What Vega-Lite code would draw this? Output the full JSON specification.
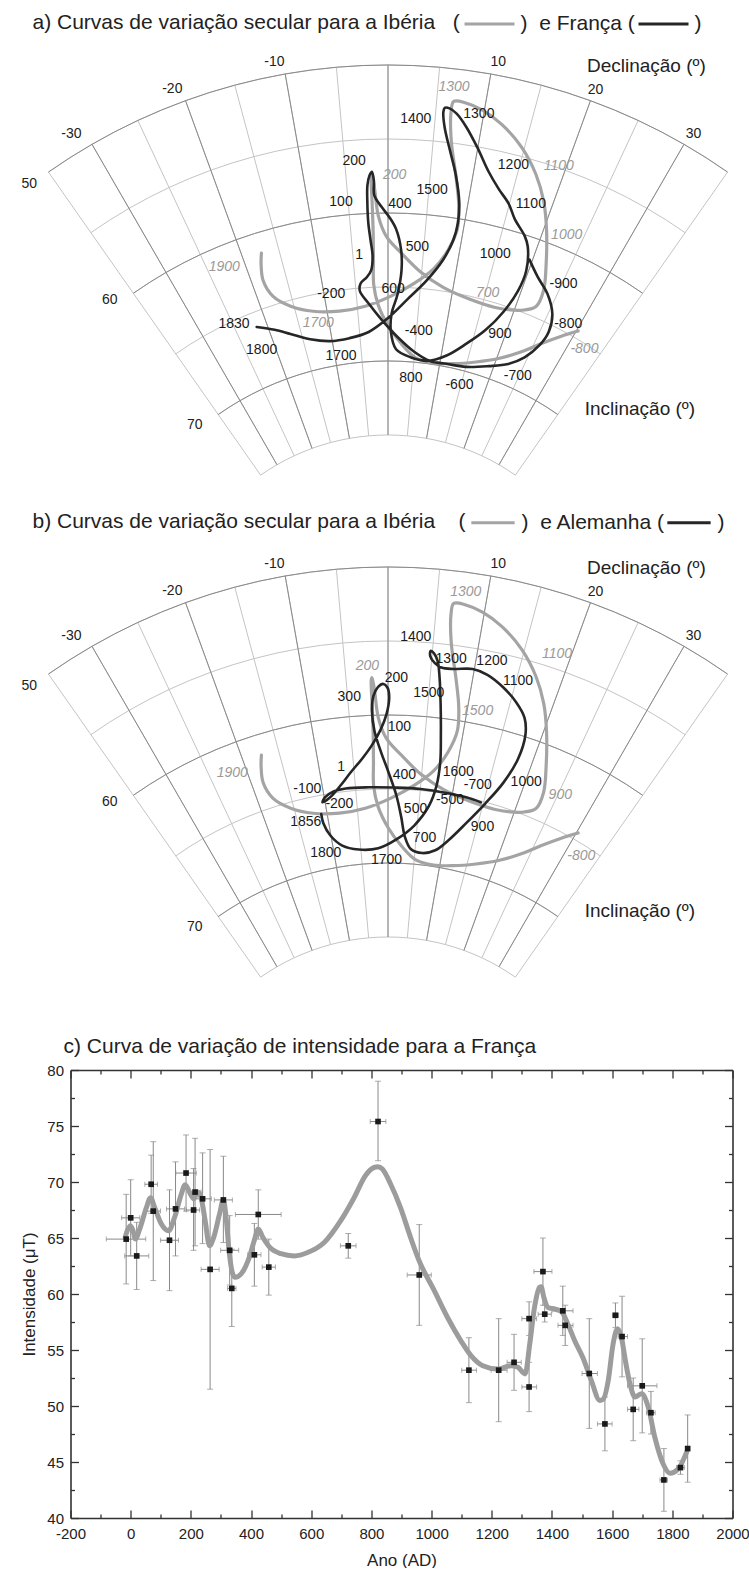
{
  "$schema": "https://vega.github.io/schema/vega-lite/v6.json",
  "padding": {"left": 20.5, "top": 0, "right": 0, "bottom": 0},
  "background": "white",
  "config": {"font": "Liberation Sans", "view": {"stroke": null}},
  "spacing": 0,
  "bounds": "flush",
  "resolve": {"scale": {"color": "independent"}, "legend": {"color": "independent"}},
  "datasets": {
    "iberia": [
      {"i":1,"dec":30.25,"inc":64.5},{"i":2,"dec":28.3,"inc":65.4},{"i":3,"dec":26.0,"inc":66.45},{"i":4,"dec":23.6,"inc":67.5},
      {"i":5,"dec":20.3,"inc":68.5},{"i":6,"dec":16.6,"inc":69.2},{"i":7,"dec":12.5,"inc":69.7},{"i":8,"dec":8.8,"inc":69.9},
      {"i":9,"dec":5.3,"inc":69.7},{"i":10,"dec":2.4,"inc":68.8},{"i":11,"dec":0.0,"inc":67.6},{"i":12,"dec":-1.6,"inc":66.2},
      {"i":13,"dec":-2.2,"inc":64.8},{"i":14,"dec":-2.1,"inc":63.2},{"i":15,"dec":-2.0,"inc":61.3},{"i":16,"dec":-2.0,"inc":59.25},
      {"i":17,"dec":-2.0,"inc":57.6},{"i":18,"dec":-1.9,"inc":57.45},{"i":19,"dec":-1.65,"inc":58.3},{"i":20,"dec":-1.25,"inc":60.2},
      {"i":21,"dec":-0.2,"inc":61.6},{"i":22,"dec":1.9,"inc":62.7},{"i":23,"dec":4.85,"inc":63.9},{"i":24,"dec":8.5,"inc":64.75},
      {"i":25,"dec":12.8,"inc":65.2},{"i":26,"dec":17.05,"inc":65.3},{"i":27,"dec":21.05,"inc":64.9},{"i":28,"dec":22.9,"inc":64.3},
      {"i":29,"dec":23.0,"inc":63.1},{"i":30,"dec":21.9,"inc":61.35},{"i":31,"dec":20.35,"inc":59.2},{"i":32,"dec":18.9,"inc":57.5},
      {"i":33,"dec":17.05,"inc":55.9},{"i":34,"dec":14.7,"inc":54.4},{"i":35,"dec":12.05,"inc":53.2},{"i":36,"dec":9.8,"inc":52.5},
      {"i":37,"dec":8.0,"inc":52.2},{"i":38,"dec":6.75,"inc":52.2},{"i":39,"dec":6.6,"inc":53.0},{"i":40,"dec":7.0,"inc":54.9},
      {"i":41,"dec":8.0,"inc":57.1},{"i":42,"dec":8.9,"inc":59.1},{"i":43,"dec":9.2,"inc":60.7},{"i":44,"dec":8.4,"inc":62.2},
      {"i":45,"dec":6.7,"inc":63.6},{"i":46,"dec":4.0,"inc":64.7},{"i":47,"dec":0.55,"inc":65.6},{"i":48,"dec":-3.7,"inc":66.25},
      {"i":49,"dec":-8.0,"inc":66.4},{"i":50,"dec":-12.2,"inc":66.1},{"i":51,"dec":-15.5,"inc":65.4},{"i":52,"dec":-17.7,"inc":64.4},
      {"i":53,"dec":-18.35,"inc":63.2},{"i":54,"dec":-17.9,"inc":62.1},{"i":55,"dec":-17.4,"inc":61.4}
    ],
    "france": [
      {"i":1,"dec":19.6,"inc":61.5},{"i":2,"dec":21.5,"inc":62.4},{"i":3,"dec":23.7,"inc":63.2},{"i":4,"dec":25.6,"inc":64.3},
      {"i":5,"dec":26.3,"inc":65.5},{"i":6,"dec":25.9,"inc":66.6},{"i":7,"dec":24.5,"inc":67.75},{"i":8,"dec":22.3,"inc":68.6},
      {"i":9,"dec":19.1,"inc":69.2},{"i":10,"dec":15.05,"inc":69.7},{"i":11,"dec":11.3,"inc":69.8},{"i":12,"dec":8.1,"inc":69.8},
      {"i":13,"dec":4.9,"inc":69.3},{"i":14,"dec":1.8,"inc":68.4},{"i":15,"dec":-1.1,"inc":67.2},{"i":16,"dec":-3.1,"inc":66.1},
      {"i":17,"dec":-4.4,"inc":65.2},{"i":18,"dec":-4.2,"inc":64.7},{"i":19,"dec":-3.2,"inc":64.3},{"i":20,"dec":-2.5,"inc":63.85},
      {"i":21,"dec":-2.2,"inc":62.9},{"i":22,"dec":-2.4,"inc":61.8},{"i":23,"dec":-2.6,"inc":60.6},{"i":24,"dec":-2.6,"inc":59.2},
      {"i":25,"dec":-2.5,"inc":58.1},{"i":26,"dec":-2.2,"inc":57.45},{"i":27,"dec":-1.9,"inc":57.2},{"i":28,"dec":-1.7,"inc":57.8},
      {"i":29,"dec":-1.7,"inc":58.8},{"i":30,"dec":-0.8,"inc":59.6},{"i":31,"dec":0.2,"inc":60.3},{"i":32,"dec":1.1,"inc":61.1},
      {"i":33,"dec":1.85,"inc":62.5},{"i":34,"dec":2.0,"inc":63.9},{"i":35,"dec":1.5,"inc":65.5},{"i":36,"dec":0.6,"inc":66.8},
      {"i":37,"dec":0.5,"inc":68.0},{"i":38,"dec":1.5,"inc":69.2},{"i":39,"dec":4.4,"inc":69.7},{"i":40,"dec":7.8,"inc":69.8},
      {"i":41,"dec":11.0,"inc":69.25},{"i":42,"dec":14.0,"inc":68.2},{"i":43,"dec":16.6,"inc":66.95},{"i":44,"dec":18.5,"inc":65.4},
      {"i":45,"dec":19.55,"inc":63.75},{"i":46,"dec":19.7,"inc":62.3},{"i":47,"dec":18.8,"inc":60.7},{"i":48,"dec":18.0,"inc":60.1},
      {"i":49,"dec":16.15,"inc":59.2},{"i":50,"dec":14.9,"inc":58.3},{"i":51,"dec":13.3,"inc":57.5},{"i":52,"dec":11.7,"inc":56.5},
      {"i":53,"dec":9.96,"inc":55.06},{"i":54,"dec":8.4,"inc":53.8},{"i":55,"dec":7.2,"inc":53.0},{"i":56,"dec":6.4,"inc":52.7},
      {"i":57,"dec":5.9,"inc":52.7},{"i":58,"dec":5.8,"inc":53.0},{"i":59,"dec":6.1,"inc":54.0},{"i":60,"dec":7.0,"inc":55.56},
      {"i":61,"dec":8.0,"inc":57.1},{"i":62,"dec":8.9,"inc":58.9},{"i":63,"dec":9.15,"inc":60.3},{"i":64,"dec":8.9,"inc":61.5},
      {"i":65,"dec":7.9,"inc":62.9},{"i":66,"dec":5.9,"inc":64.4},{"i":67,"dec":3.1,"inc":65.8},{"i":68,"dec":0.0,"inc":67.1},
      {"i":69,"dec":-3.4,"inc":68.0},{"i":70,"dec":-6.9,"inc":68.3},{"i":71,"dec":-10.4,"inc":68.3},{"i":72,"dec":-13.75,"inc":67.9},
      {"i":73,"dec":-16.8,"inc":67.2},{"i":74,"dec":-19.1,"inc":66.6},{"i":75,"dec":-21.7,"inc":66.0}
    ],
    "germany": [
      {"i":1,"dec":14.6,"inc":65.1},{"i":2,"dec":12.2,"inc":65.0},{"i":3,"dec":9.1,"inc":64.95},{"i":4,"dec":5.05,"inc":64.9},
      {"i":5,"dec":1.0,"inc":64.9},{"i":6,"dec":-3.0,"inc":64.85},{"i":7,"dec":-6.5,"inc":64.8},{"i":8,"dec":-8.5,"inc":64.9},
      {"i":9,"dec":-9.9,"inc":65.2},{"i":10,"dec":-10.4,"inc":65.5},{"i":11,"dec":-9.7,"inc":65.4},{"i":12,"dec":-8.6,"inc":65.1},
      {"i":13,"dec":-7.1,"inc":64.5},{"i":14,"dec":-5.5,"inc":63.75},{"i":15,"dec":-3.7,"inc":62.9},{"i":16,"dec":-2.2,"inc":62.0},
      {"i":17,"dec":-1.0,"inc":61.0},{"i":18,"dec":-0.2,"inc":59.96},{"i":19,"dec":0.15,"inc":58.8},{"i":20,"dec":-0.06,"inc":58.16},
      {"i":21,"dec":-0.57,"inc":57.9},{"i":22,"dec":-1.2,"inc":58.1},{"i":23,"dec":-1.8,"inc":58.7},{"i":24,"dec":-2.05,"inc":59.7},
      {"i":25,"dec":-1.8,"inc":61.1},{"i":26,"dec":-0.98,"inc":62.5},{"i":27,"dec":0.1,"inc":63.9},{"i":28,"dec":1.3,"inc":65.4},
      {"i":29,"dec":2.2,"inc":66.85},{"i":30,"dec":3.0,"inc":68.2},{"i":31,"dec":4.2,"inc":69.0},{"i":32,"dec":6.4,"inc":69.2},
      {"i":33,"dec":8.7,"inc":68.9},{"i":34,"dec":10.7,"inc":68.1},{"i":35,"dec":13.1,"inc":66.7},{"i":36,"dec":15.3,"inc":65.1},
      {"i":37,"dec":17.05,"inc":63.4},{"i":38,"dec":18.0,"inc":61.6},{"i":39,"dec":17.96,"inc":59.9},{"i":40,"dec":17.2,"inc":58.8},
      {"i":41,"dec":15.7,"inc":57.96},{"i":42,"dec":13.75,"inc":57.2},{"i":43,"dec":11.6,"inc":56.6},{"i":44,"dec":9.8,"inc":56.4},
      {"i":45,"dec":7.6,"inc":56.6},{"i":46,"dec":6.2,"inc":56.6},{"i":47,"dec":5.4,"inc":56.35},{"i":48,"dec":4.8,"inc":55.9},
      {"i":49,"dec":4.8,"inc":55.55},{"i":50,"dec":5.2,"inc":55.7},{"i":51,"dec":5.7,"inc":56.2},{"i":52,"dec":6.1,"inc":57.24},
      {"i":53,"dec":6.6,"inc":59.06},{"i":54,"dec":7.1,"inc":61.1},{"i":55,"dec":7.5,"inc":62.96},{"i":56,"dec":7.4,"inc":64.6},
      {"i":57,"dec":6.6,"inc":66.0},{"i":58,"dec":4.5,"inc":67.4},{"i":59,"dec":1.5,"inc":68.4},{"i":60,"dec":-1.8,"inc":69.0},
      {"i":61,"dec":-5.4,"inc":69.0},{"i":62,"dec":-8.3,"inc":68.6},{"i":63,"dec":-10.1,"inc":67.8},{"i":64,"dec":-10.9,"inc":66.9},
      {"i":65,"dec":-10.95,"inc":66.26}
    ],
    "grid_num": [
      {"t":"-30","dec":-31.2,"inc":48.7},{"t":"-20","dec":-20.8,"inc":48.96},{"t":"-10","dec":-10.8,"inc":49.05},
      {"t":"10","dec":10.5,"inc":49.1},{"t":"20","dec":20.1,"inc":49.2},{"t":"30","dec":30.3,"inc":49.1},
      {"t":"50","dec":-37.2,"inc":49.9},{"t":"60","dec":-37.9,"inc":59.4},{"t":"70","dec":-39.8,"inc":69.6}
    ],
    "grid_title": [
      {"t":"Declinação (º)","dec":23.6,"inc":46.4},{"t":"Inclinação (º)","dec":45.4,"inc":66.1}
    ],
    "a_lab_f": [
      {"t":"1400","dec":2.95,"inc":53.6},{"t":"1300","dec":9.5,"inc":52.8},{"t":"200","dec":-3.9,"inc":56.4},
      {"t":"1200","dec":14.3,"inc":55.7},{"t":"1500","dec":5.4,"inc":58.3},{"t":"100","dec":-5.9,"inc":59.1},
      {"t":"400","dec":1.5,"inc":59.4},{"t":"1100","dec":17.5,"inc":57.9},{"t":"1","dec":-4.1,"inc":62.8},
      {"t":"500","dec":4.1,"inc":62.2},{"t":"1000","dec":14.9,"inc":61.8},{"t":"-900","dec":25.2,"inc":62.15},
      {"t":"-200","dec":-8.9,"inc":65.2},{"t":"600","dec":0.8,"inc":65.1},{"t":"1830","dec":-24.8,"inc":65.2},
      {"t":"-800","dec":28.4,"inc":64.4},{"t":"-400","dec":5.4,"inc":67.9},{"t":"900","dec":19.1,"inc":66.9},
      {"t":"1800","dec":-22.4,"inc":67.6},{"t":"1700","dec":-8.85,"inc":69.4},{"t":"800","dec":4.7,"inc":71.1},
      {"t":"-600","dec":14.7,"inc":70.97},{"t":"-700","dec":24.8,"inc":69.1}
    ],
    "a_lab_i": [
      {"t":"1300","dec":6.6,"inc":51.2},{"t":"200","dec":0.79,"inc":57.4},{"t":"1100","dec":19.2,"inc":54.9},
      {"t":"1000","dec":22.96,"inc":59.05},{"t":"700","dec":15.3,"inc":64.5},{"t":"1700","dec":-11.8,"inc":66.96},
      {"t":"1900","dec":-22.75,"inc":61.4},{"t":"-800","dec":32.5,"inc":65.3}
    ],
    "b_lab_g": [
      {"t":"1400","dec":3.05,"inc":54.7},{"t":"1300","dec":7.2,"inc":55.96},{"t":"1200","dec":11.8,"inc":55.66},
      {"t":"1100","dec":15.2,"inc":56.5},{"t":"200","dec":0.99,"inc":57.5},{"t":"300","dec":-4.8,"inc":58.7},
      {"t":"1500","dec":5.0,"inc":58.4},{"t":"100","dec":1.5,"inc":60.8},{"t":"1","dec":-6.8,"inc":63.3},
      {"t":"400","dec":2.45,"inc":64.0},{"t":"1600","dec":10.3,"inc":63.45},{"t":"-700","dec":13.5,"inc":64.0},
      {"t":"1000","dec":20.15,"inc":62.9},{"t":"-100","dec":-12.3,"inc":64.4},{"t":"-200","dec":-7.8,"inc":65.8},
      {"t":"-500","dec":9.8,"inc":65.4},{"t":"500","dec":4.5,"inc":66.3},{"t":"1856","dec":-13.7,"inc":66.55},
      {"t":"900","dec":15.9,"inc":66.7},{"t":"700","dec":6.5,"inc":68.2},{"t":"1800","dec":-11.5,"inc":68.9},
      {"t":"1700","dec":-0.28,"inc":69.8}
    ],
    "b_lab_i": [
      {"t":"1300","dec":7.8,"inc":51.3},{"t":"200","dec":-2.4,"inc":56.66},{"t":"1100","dec":18.5,"inc":54.0},
      {"t":"1500","dec":11.3,"inc":59.1},{"t":"900","dec":25.3,"inc":62.76},{"t":"1900","dec":-22.0,"inc":61.9},
      {"t":"-800","dec":32.5,"inc":65.7}
    ],
    "pts": [
      {"yr":-15,"v":64.9,"ylo":60.9,"yhi":68.9,"xlo":-81,"xhi":50},
      {"yr":0,"v":66.8,"ylo":63.4,"yhi":70.2,"xlo":-30,"xhi":30},
      {"yr":20,"v":63.4,"ylo":60.4,"yhi":66.4,"xlo":-20,"xhi":60},
      {"yr":68,"v":69.8,"ylo":67.2,"yhi":72.4,"xlo":47,"xhi":89},
      {"yr":75,"v":67.4,"ylo":61.2,"yhi":73.6,"xlo":51,"xhi":99},
      {"yr":129,"v":64.8,"ylo":60.3,"yhi":69.3,"xlo":99,"xhi":159},
      {"yr":149,"v":67.6,"ylo":63.4,"yhi":71.8,"xlo":119,"xhi":179},
      {"yr":184,"v":70.8,"ylo":67.4,"yhi":74.2,"xlo":150,"xhi":218},
      {"yr":209,"v":67.5,"ylo":63.9,"yhi":71.2,"xlo":185,"xhi":229},
      {"yr":214,"v":69.1,"ylo":64.3,"yhi":73.9,"xlo":194,"xhi":234},
      {"yr":239,"v":68.5,"ylo":64.5,"yhi":72.6,"xlo":210,"xhi":268},
      {"yr":264,"v":62.2,"ylo":51.5,"yhi":72.9,"xlo":234,"xhi":294},
      {"yr":308,"v":68.4,"ylo":64.6,"yhi":72.3,"xlo":278,"xhi":338},
      {"yr":329,"v":63.9,"ylo":60.8,"yhi":67.0,"xlo":299,"xhi":359},
      {"yr":336,"v":60.5,"ylo":57.1,"yhi":64.0,"xlo":322,"xhi":350},
      {"yr":411,"v":63.5,"ylo":60.7,"yhi":66.3,"xlo":389,"xhi":433},
      {"yr":424,"v":67.1,"ylo":64.9,"yhi":69.3,"xlo":348,"xhi":500},
      {"yr":459,"v":62.4,"ylo":59.9,"yhi":64.9,"xlo":437,"xhi":481},
      {"yr":723,"v":64.3,"ylo":63.2,"yhi":65.4,"xlo":697,"xhi":749},
      {"yr":822,"v":75.4,"ylo":71.9,"yhi":79.0,"xlo":796,"xhi":848},
      {"yr":959,"v":61.7,"ylo":57.2,"yhi":66.2,"xlo":919,"xhi":999},
      {"yr":1124,"v":53.2,"ylo":50.3,"yhi":56.1,"xlo":1100,"xhi":1149},
      {"yr":1223,"v":53.2,"ylo":48.6,"yhi":57.8,"xlo":1198,"xhi":1251},
      {"yr":1274,"v":53.9,"ylo":51.4,"yhi":56.4,"xlo":1251,"xhi":1298},
      {"yr":1324,"v":57.8,"ylo":56.3,"yhi":59.3,"xlo":1300,"xhi":1349},
      {"yr":1324,"v":51.7,"ylo":49.5,"yhi":53.9,"xlo":1300,"xhi":1349},
      {"yr":1370,"v":62.0,"ylo":59.0,"yhi":65.0,"xlo":1340,"xhi":1400},
      {"yr":1376,"v":58.2,"ylo":57.5,"yhi":59.0,"xlo":1354,"xhi":1398},
      {"yr":1436,"v":58.5,"ylo":56.3,"yhi":60.7,"xlo":1400,"xhi":1470},
      {"yr":1444,"v":57.2,"ylo":55.4,"yhi":59.0,"xlo":1420,"xhi":1470},
      {"yr":1524,"v":52.9,"ylo":48.0,"yhi":57.8,"xlo":1500,"xhi":1551},
      {"yr":1576,"v":48.4,"ylo":46.0,"yhi":50.8,"xlo":1551,"xhi":1600},
      {"yr":1611,"v":58.1,"ylo":57.0,"yhi":59.2,"xlo":1601,"xhi":1621},
      {"yr":1633,"v":56.2,"ylo":52.6,"yhi":59.8,"xlo":1620,"xhi":1651},
      {"yr":1670,"v":49.7,"ylo":46.9,"yhi":52.5,"xlo":1651,"xhi":1689},
      {"yr":1700,"v":51.8,"ylo":47.6,"yhi":56.0,"xlo":1651,"xhi":1749},
      {"yr":1729,"v":49.4,"ylo":47.5,"yhi":51.3,"xlo":1714,"xhi":1743},
      {"yr":1772,"v":43.4,"ylo":40.6,"yhi":46.2,"xlo":1759,"xhi":1784},
      {"yr":1827,"v":44.5,"ylo":43.9,"yhi":45.1,"xlo":1814,"xhi":1840},
      {"yr":1851,"v":46.2,"ylo":43.2,"yhi":49.2,"xlo":1846,"xhi":1856}
    ],
    "curve": [
      {"yr":-18,"v":65.1},{"yr":-9,"v":65.8},{"yr":-1,"v":66.1},{"yr":8,"v":65.65},{"yr":15.5,"v":64.9},
      {"yr":30,"v":65.8},{"yr":52,"v":67.7},{"yr":66,"v":68.6},{"yr":80,"v":67.7},{"yr":102,"v":66.25},
      {"yr":126,"v":65.65},{"yr":146,"v":66.85},{"yr":168,"v":68.9},{"yr":181,"v":69.76},{"yr":199,"v":68.9},
      {"yr":210,"v":68.5},{"yr":223,"v":69.1},{"yr":234,"v":68.6},{"yr":247.5,"v":66.55},{"yr":262,"v":64.3},
      {"yr":276,"v":65.06},{"yr":295,"v":67.1},{"yr":308,"v":68.4},{"yr":317,"v":66.85},{"yr":328,"v":63.6},
      {"yr":339,"v":61.8},{"yr":347,"v":61.5},{"yr":367,"v":61.8},{"yr":394.5,"v":63.3},{"yr":411,"v":64.8},
      {"yr":424,"v":65.8},{"yr":439,"v":65.06},{"yr":461,"v":64.2},{"yr":499,"v":63.6},{"yr":544,"v":63.4},
      {"yr":588,"v":63.7},{"yr":643,"v":64.6},{"yr":698,"v":66.55},{"yr":742.5,"v":68.6},{"yr":781,"v":70.6},
      {"yr":809,"v":71.3},{"yr":822,"v":71.37},{"yr":836.5,"v":71.16},{"yr":864,"v":69.8},{"yr":897,"v":67.7},
      {"yr":930,"v":65.06},{"yr":958,"v":63.0},{"yr":1009,"v":60.3},{"yr":1053,"v":57.9},{"yr":1098,"v":55.8},
      {"yr":1131,"v":54.5},{"yr":1170,"v":53.6},{"yr":1220,"v":53.3},{"yr":1264,"v":53.6},{"yr":1287,"v":53.45},
      {"yr":1311,"v":52.86},{"yr":1326,"v":55.5},{"yr":1342,"v":58.8},{"yr":1359,"v":60.6},{"yr":1364,"v":60.65},
      {"yr":1373,"v":59.7},{"yr":1387,"v":58.8},{"yr":1409,"v":58.66},{"yr":1431,"v":58.45},{"yr":1453,"v":57.3},
      {"yr":1476,"v":55.8},{"yr":1503,"v":54.3},{"yr":1531,"v":52.26},{"yr":1559,"v":50.5},{"yr":1570,"v":50.6},
      {"yr":1587,"v":52.26},{"yr":1603,"v":55.5},{"yr":1618,"v":56.9},{"yr":1631,"v":56.1},{"yr":1644,"v":54.05},
      {"yr":1659,"v":52.0},{"yr":1676,"v":50.8},{"yr":1698,"v":51.1},{"yr":1720,"v":49.9},{"yr":1742,"v":47.2},
      {"yr":1770,"v":44.8},{"yr":1792,"v":44.0},{"yr":1820,"v":44.4},{"yr":1848,"v":45.9}
    ]
  },
  "vconcat": [
    {
      "width": 680, "height": 502,
      "view": {"stroke": "transparent"},
      "projection": {"type": "azimuthalEquidistant", "rotate": [180, -90, 0], "reflectX": true, "scale": 848, "translate": [317.5, 656]},
      "layer": [
        {"data": {"graticule": {"step": [5, 5], "extent": [[-35, 50], [35.001, 75.001]]}}, "mark": {"type": "geoshape", "filled": false, "stroke": "#c4c4c4", "strokeWidth": 1, "clip": false}},
        {"data": {"graticule": {"step": [10, 10], "extent": [[-35, 50], [35.001, 75]]}}, "mark": {"type": "geoshape", "filled": false, "stroke": "#8a8a8a", "strokeWidth": 1, "clip": false}},
        {"data": {"name": "iberia"}, "mark": {"type": "line", "strokeWidth": 3.2, "interpolate": "catmull-rom", "strokeCap": "round", "strokeJoin": "round", "clip": false},
         "encoding": {"longitude": {"field": "dec", "type": "quantitative"}, "latitude": {"field": "inc", "type": "quantitative"}, "order": {"field": "i", "type": "quantitative"},
           "color": {"datum": "Ibéria", "type": "nominal", "scale": {"domain": ["Ibéria", "França"], "range": ["#a4a4a4", "#262626"]},
             "legend": {"orient": "none", "legendX": -38, "legendY": 11, "direction": "horizontal", "title": "a) Curvas de variação secular para a Ibéria\u00a0\u00a0\u00a0(", "titleOrient": "left", "titleLimit": 700, "titleFontSize": 21, "titleFontWeight": "normal", "titleColor": "#222", "titlePadding": 17, "labelFontSize": 21, "labelColor": "#222", "labelExpr": "datum.label == 'Ibéria' ? ')\u00a0\u00a0e França\u00a0(' : ')'", "symbolType": "M-2.5,0L2.5,0", "symbolSize": 400, "symbolStrokeWidth": 3.2, "labelOffset": 19, "columnPadding": -4, "labelLimit": 400}}}},
        {"data": {"name": "france"}, "mark": {"type": "line", "strokeWidth": 2.6, "interpolate": "catmull-rom", "strokeCap": "round", "strokeJoin": "round", "clip": false},
         "encoding": {"longitude": {"field": "dec", "type": "quantitative"}, "latitude": {"field": "inc", "type": "quantitative"}, "order": {"field": "i", "type": "quantitative"},
           "color": {"datum": "França", "type": "nominal"}}},
        {"data": {"name": "grid_num"}, "mark": {"type": "text", "fontSize": 14, "color": "#222", "clip": false},
         "encoding": {"longitude": {"field": "dec", "type": "quantitative"}, "latitude": {"field": "inc", "type": "quantitative"}, "text": {"field": "t"}}},
        {"data": {"name": "grid_title"}, "mark": {"type": "text", "fontSize": 19, "color": "#222", "clip": false},
         "encoding": {"longitude": {"field": "dec", "type": "quantitative"}, "latitude": {"field": "inc", "type": "quantitative"}, "text": {"field": "t"}}},
        {"data": {"name": "a_lab_f"}, "mark": {"type": "text", "fontSize": 14, "color": "#1a1a1a", "clip": false},
         "encoding": {"longitude": {"field": "dec", "type": "quantitative"}, "latitude": {"field": "inc", "type": "quantitative"}, "text": {"field": "t"}}},
        {"data": {"name": "a_lab_i"}, "mark": {"type": "text", "fontSize": 14, "color": "#9a9a9a", "fontStyle": "italic", "clip": false},
         "encoding": {"longitude": {"field": "dec", "type": "quantitative"}, "latitude": {"field": "inc", "type": "quantitative"}, "text": {"field": "t"}}}
      ]
    },
    {
      "width": 680, "height": 567,
      "view": {"stroke": "transparent"},
      "projection": {"type": "azimuthalEquidistant", "rotate": [180, -90, 0], "reflectX": true, "scale": 848, "translate": [317.5, 656]},
      "layer": [
        {"data": {"graticule": {"step": [5, 5], "extent": [[-35, 50], [35.001, 75.001]]}}, "mark": {"type": "geoshape", "filled": false, "stroke": "#c4c4c4", "strokeWidth": 1, "clip": false}},
        {"data": {"graticule": {"step": [10, 10], "extent": [[-35, 50], [35.001, 75]]}}, "mark": {"type": "geoshape", "filled": false, "stroke": "#8a8a8a", "strokeWidth": 1, "clip": false}},
        {"data": {"name": "iberia"}, "mark": {"type": "line", "strokeWidth": 3.2, "interpolate": "catmull-rom", "strokeCap": "round", "strokeJoin": "round", "clip": false},
         "encoding": {"longitude": {"field": "dec", "type": "quantitative"}, "latitude": {"field": "inc", "type": "quantitative"}, "order": {"field": "i", "type": "quantitative"},
           "color": {"datum": "Ibéria", "type": "nominal", "scale": {"domain": ["Ibéria", "Alemanha"], "range": ["#a4a4a4", "#262626"]},
             "legend": {"orient": "none", "legendX": -38, "legendY": 9, "direction": "horizontal", "title": "b) Curvas de variação secular para a Ibéria\u00a0\u00a0\u00a0\u00a0(", "titleOrient": "left", "titleLimit": 700, "titleFontSize": 21, "titleFontWeight": "normal", "titleColor": "#222", "titlePadding": 16, "labelFontSize": 21, "labelColor": "#222", "labelExpr": "datum.label == 'Ibéria' ? ')\u00a0\u00a0e Alemanha\u00a0(' : ')'", "symbolType": "M-2.5,0L2.5,0", "symbolSize": 300, "symbolStrokeWidth": 3.2, "labelOffset": 18, "columnPadding": -5, "labelLimit": 400}}}},
        {"data": {"name": "germany"}, "mark": {"type": "line", "strokeWidth": 2.6, "interpolate": "catmull-rom", "strokeCap": "round", "strokeJoin": "round", "clip": false},
         "encoding": {"longitude": {"field": "dec", "type": "quantitative"}, "latitude": {"field": "inc", "type": "quantitative"}, "order": {"field": "i", "type": "quantitative"},
           "color": {"datum": "Alemanha", "type": "nominal"}}},
        {"data": {"name": "grid_num"}, "mark": {"type": "text", "fontSize": 14, "color": "#222", "clip": false},
         "encoding": {"longitude": {"field": "dec", "type": "quantitative"}, "latitude": {"field": "inc", "type": "quantitative"}, "text": {"field": "t"}}},
        {"data": {"name": "grid_title"}, "mark": {"type": "text", "fontSize": 19, "color": "#222", "clip": false},
         "encoding": {"longitude": {"field": "dec", "type": "quantitative"}, "latitude": {"field": "inc", "type": "quantitative"}, "text": {"field": "t"}}},
        {"data": {"name": "b_lab_g"}, "mark": {"type": "text", "fontSize": 14, "color": "#1a1a1a", "clip": false},
         "encoding": {"longitude": {"field": "dec", "type": "quantitative"}, "latitude": {"field": "inc", "type": "quantitative"}, "text": {"field": "t"}}},
        {"data": {"name": "b_lab_i"}, "mark": {"type": "text", "fontSize": 14, "color": "#9a9a9a", "fontStyle": "italic", "clip": false},
         "encoding": {"longitude": {"field": "dec", "type": "quantitative"}, "latitude": {"field": "inc", "type": "quantitative"}, "text": {"field": "t"}}}
      ]
    },
    {
      "width": 662, "height": 448,
      "title": {"text": "c) Curva de variação de intensidade para a França", "anchor": "start", "frame": "group", "fontSize": 21, "fontWeight": "normal", "color": "#222", "offset": 13, "dx": -7, "dy": 28, "baseline": "bottom"},
      "view": {"stroke": null},
      "resolve": {"axis": {"x": "independent", "y": "independent"}},
      "layer": [
        {"data": {"name": "pts"}, "mark": {"type": "rule", "color": "#7c7c7c", "strokeWidth": 0.9},
         "encoding": {"x": {"field": "yr", "type": "quantitative", "scale": {"domain": [-200, 2000], "nice": false, "zero": false}, "axis": null},
                      "y": {"field": "ylo", "type": "quantitative", "scale": {"domain": [40, 80], "nice": false, "zero": false}, "axis": null},
                      "y2": {"field": "yhi"}}},
        {"data": {"name": "pts"}, "mark": {"type": "rule", "color": "#7c7c7c", "strokeWidth": 0.9},
         "encoding": {"x": {"field": "xlo", "type": "quantitative", "scale": {"domain": [-200, 2000], "nice": false, "zero": false}, "axis": null},
                      "x2": {"field": "xhi"},
                      "y": {"field": "v", "type": "quantitative", "scale": {"domain": [40, 80], "nice": false, "zero": false}, "axis": null}}},
        {"data": {"name": "pts"}, "mark": {"type": "tick", "orient": "horizontal", "size": 6, "thickness": 1, "color": "#8c8c8c"},
         "encoding": {"x": {"field": "yr", "type": "quantitative", "scale": {"domain": [-200, 2000], "nice": false, "zero": false}, "axis": null},
                      "y": {"field": "ylo", "type": "quantitative", "scale": {"domain": [40, 80], "nice": false, "zero": false}, "axis": null}}},
        {"data": {"name": "pts"}, "mark": {"type": "tick", "orient": "horizontal", "size": 6, "thickness": 1, "color": "#8c8c8c"},
         "encoding": {"x": {"field": "yr", "type": "quantitative", "scale": {"domain": [-200, 2000], "nice": false, "zero": false}, "axis": null},
                      "y": {"field": "yhi", "type": "quantitative", "scale": {"domain": [40, 80], "nice": false, "zero": false}, "axis": null}}},
        {"data": {"name": "pts"}, "mark": {"type": "tick", "orient": "vertical", "size": 5, "thickness": 1, "color": "#8c8c8c"},
         "encoding": {"x": {"field": "xlo", "type": "quantitative", "scale": {"domain": [-200, 2000], "nice": false, "zero": false}, "axis": null},
                      "y": {"field": "v", "type": "quantitative", "scale": {"domain": [40, 80], "nice": false, "zero": false}, "axis": null}}},
        {"data": {"name": "pts"}, "mark": {"type": "tick", "orient": "vertical", "size": 5, "thickness": 1, "color": "#8c8c8c"},
         "encoding": {"x": {"field": "xhi", "type": "quantitative", "scale": {"domain": [-200, 2000], "nice": false, "zero": false}, "axis": null},
                      "y": {"field": "v", "type": "quantitative", "scale": {"domain": [40, 80], "nice": false, "zero": false}, "axis": null}}},
        {"data": {"name": "curve"}, "mark": {"type": "line", "color": "#9c9c9c", "strokeWidth": 5, "interpolate": "monotone", "strokeCap": "round"},
         "encoding": {
           "x": {"field": "yr", "type": "quantitative", "scale": {"domain": [-200, 2000], "nice": false, "zero": false},
                 "axis": {"orient": "bottom", "values": [-200,-100,0,100,200,300,400,500,600,700,800,900,1000,1100,1200,1300,1400,1500,1600,1700,1800,1900,2000],
                          "labelExpr": "datum.value % 200 === 0 ? '' + datum.value : ''",
                          "tickSize": {"condition": {"test": "datum.value % 200 === 0", "value": -8}, "value": -4},
                          "labelPadding": 16, "labelFontSize": 15, "labelColor": "#222", "labelFlush": false, "labelOverlap": false,
                          "tickColor": "#333", "tickWidth": 1.3, "domainColor": "#333", "domainWidth": 1.6, "grid": false,
                          "title": "Ano (AD)", "titleFontSize": 17, "titleFontWeight": "normal", "titleColor": "#222", "titlePadding": 7}},
           "y": {"field": "v", "type": "quantitative", "scale": {"domain": [40, 80], "nice": false, "zero": false},
                 "axis": {"orient": "left", "values": [40,42.5,45,47.5,50,52.5,55,57.5,60,62.5,65,67.5,70,72.5,75,77.5,80],
                          "labelExpr": "datum.value % 5 === 0 ? '' + datum.value : ''",
                          "tickSize": {"condition": {"test": "datum.value % 5 === 0", "value": -8}, "value": -4},
                          "labelPadding": 15, "labelFontSize": 15, "labelColor": "#222", "labelFlush": false, "labelOverlap": false,
                          "tickColor": "#333", "tickWidth": 1.3, "domainColor": "#333", "domainWidth": 1.6, "grid": false,
                          "title": "Intensidade (μT)", "titleFontSize": 17, "titleFontWeight": "normal", "titleColor": "#222", "titlePadding": 8}}}},
        {"data": {"name": "pts"}, "mark": {"type": "square", "size": 32, "color": "#1a1a1a", "opacity": 1},
         "encoding": {
           "x": {"field": "yr", "type": "quantitative", "scale": {"domain": [-200, 2000], "nice": false, "zero": false},
                 "axis": {"orient": "top", "values": [-200,-100,0,100,200,300,400,500,600,700,800,900,1000,1100,1200,1300,1400,1500,1600,1700,1800,1900,2000],
                          "labels": false, "tickSize": {"condition": {"test": "datum.value % 200 === 0", "value": -8}, "value": -4},
                          "tickColor": "#333", "tickWidth": 1.3, "domainColor": "#333", "domainWidth": 1.6, "grid": false, "title": null}},
           "y": {"field": "v", "type": "quantitative", "scale": {"domain": [40, 80], "nice": false, "zero": false},
                 "axis": {"orient": "right", "values": [40,42.5,45,47.5,50,52.5,55,57.5,60,62.5,65,67.5,70,72.5,75,77.5,80],
                          "labels": false, "tickSize": {"condition": {"test": "datum.value % 5 === 0", "value": -8}, "value": -4},
                          "tickColor": "#333", "tickWidth": 1.3, "domainColor": "#333", "domainWidth": 1.6, "grid": false, "title": null}}}}
      ]
    }
  ]
}
